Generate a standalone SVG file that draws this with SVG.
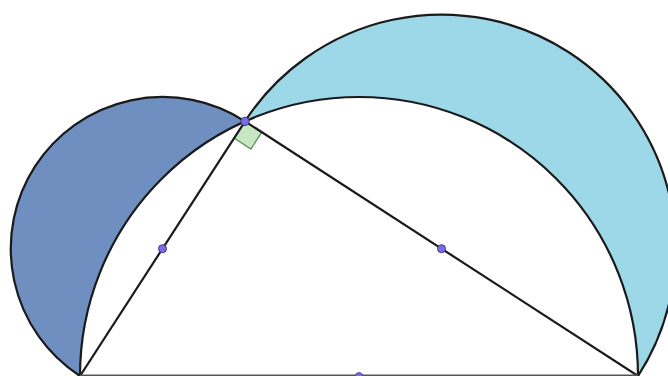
<svg xmlns="http://www.w3.org/2000/svg" width="668" height="376" viewBox="0 0 668 376">
<style>
.arc{fill:none;stroke:#1a1a1a;stroke-width:2.2}
.seg{stroke:#1a1a1a;stroke-width:2.2;fill:none}
.pt{fill:#7b6fe0;stroke:#3a3a8a;stroke-width:1}
</style>
<rect width="668" height="376" fill="#ffffff"/>
<g id="lune-left">
<path d="M80 376 A151.7 151.7 0 0 1 245 121.35 A279 279 0 0 0 80 376 Z" fill="#6e8fc0"/>
</g>
<g id="lune-right">
<path d="M245 121.35 A234.1 234.1 0 0 1 638 376 A279 279 0 0 0 245 121.35 Z" fill="#9dd8e8"/>
</g>
<g id="right-angle">
<path d="M245 121.35 L234.1 138.1 L250.9 149 L261.8 132.2 Z" fill="#c7e6c2" stroke="#5f8f5f" stroke-width="1.3"/>
</g>
<g id="connectors">
<path class="arc" d="M80 376 A151.7 151.7 0 0 1 245 121.35"/>
<path class="arc" d="M245 121.35 A234.1 234.1 0 0 1 638 376"/>
<path class="arc" d="M80 376 A279 279 0 0 1 638 376"/>
<line class="seg" x1="80" y1="376" x2="245" y2="121.35"/>
<line class="seg" x1="245" y1="121.35" x2="638" y2="376"/>
<line x1="80" y1="375.5" x2="638" y2="375.5" stroke="#555" stroke-width="2"/>
</g>
<g id="point-C"><circle class="pt" cx="245" cy="121.35" r="4.2"/></g>
<g id="mid-AC"><circle class="pt" cx="162.5" cy="248.7" r="4"/></g>
<g id="mid-CB"><circle class="pt" cx="441.5" cy="248.7" r="4"/></g>
<g id="mid-AB"><circle class="pt" cx="359" cy="377" r="4.2"/></g>
</svg>
